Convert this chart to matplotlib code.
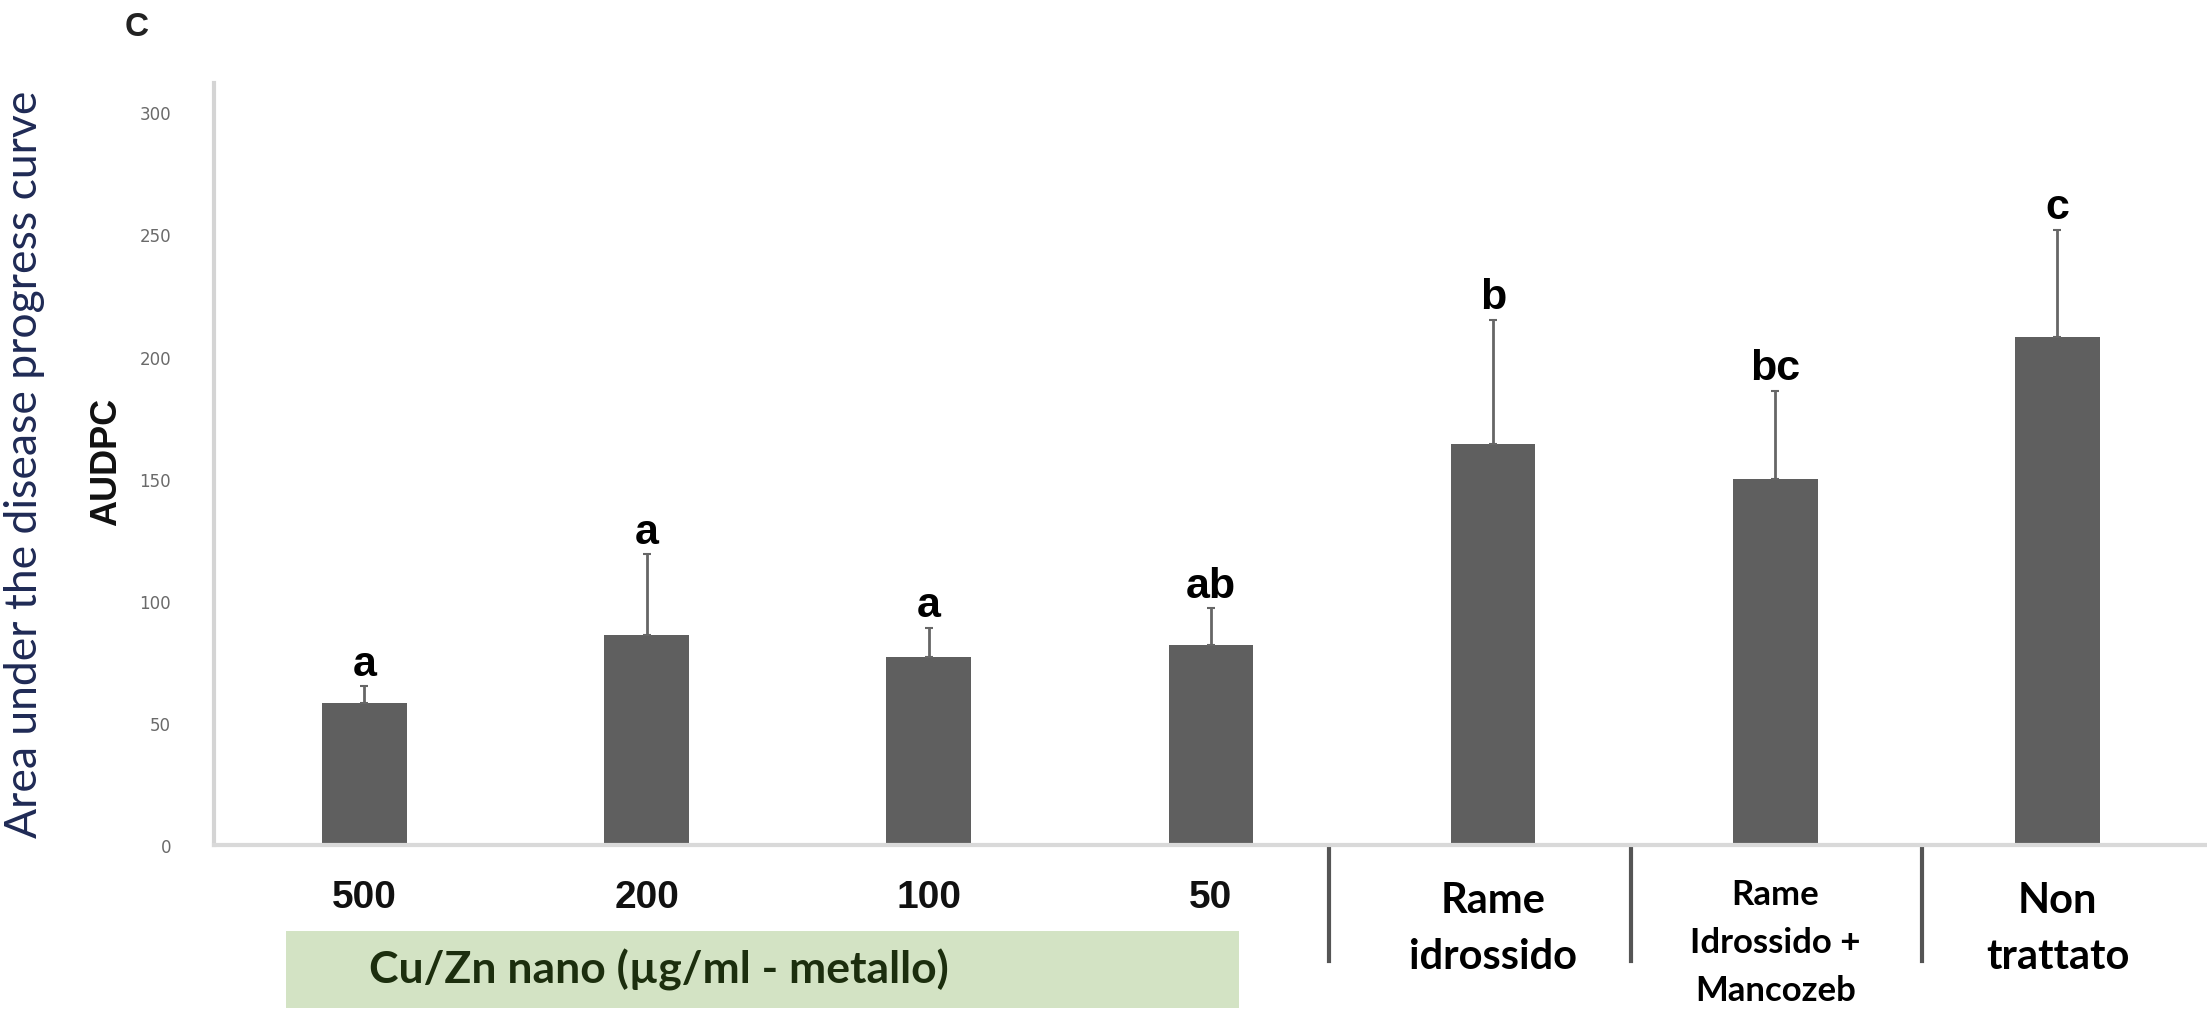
import matplotlib
matplotlib.use("Agg")
import matplotlib.pyplot as plt
import matplotlib.transforms as mtransforms
from matplotlib.patches import Rectangle

# ---- data ----
categories = ["500", "200", "100", "50", "Rame\nidrossido", "Rame\nIdrossido +\nMancozeb", "Non\ntrattato"]
audpc_mean = [58, 86, 77, 82, 164, 150, 208]
audpc_err = [7, 33, 12, 15, 51, 36, 44]
letters = ["a", "a", "a", "ab", "b", "bc", "c"]
y_ticks = [0, 50, 100, 150, 200, 250, 300]
group_label = "Cu/Zn nano (µg/ml - metallo)"
separators = [3.42, 4.49, 5.52]

W, H = 2207, 1012
fig = plt.figure(figsize=(W / 100, H / 100), dpi=100)
fig.patch.set_facecolor("white")

ax = fig.add_axes([214 / W, (H - 846) / H, (W - 214) / W, (846 - 84) / H])
x = list(range(len(categories)))
ax.bar(x, audpc_mean, width=0.30, color="#5f5f5f", zorder=2)
ax.errorbar(x, audpc_mean, yerr=[[0] * len(x), audpc_err], fmt="none",
            ecolor="#666666", elinewidth=2, capsize=3, capthick=1.5, zorder=3)

ax.set_xlim(-0.533, 6.53)
ax.set_ylim(0, 312)
ax.set_yticks(y_ticks)
ax.set_yticklabels([str(t) for t in y_ticks], fontsize=12, color="#6a6a6a",
                   family="DejaVu Sans")
ax.tick_params(axis="y", length=0, pad=31)
ax.tick_params(axis="x", length=0, labelbottom=False)
for s in ["top", "right"]:
    ax.spines[s].set_visible(False)
ax.spines["left"].set_color("#d4d4d4")
ax.spines["left"].set_linewidth(3)
ax.spines["bottom"].set_color("#d9d9d9")
ax.spines["bottom"].set_linewidth(3)

# significance letters
for xi, m, e, l in zip(x, audpc_mean, audpc_err, letters):
    ax.text(xi, m + e + 1, l, ha="center", va="bottom", fontsize=31,
            fontweight="bold", family="Liberation Sans", color="black")

# category labels
trans = mtransforms.blended_transform_factory(ax.transData, fig.transFigure)
for xi, c in zip(x, categories):
    n = c.count("\n")
    if n == 1:
        ax.text(xi, (H - 929) / H, c, transform=trans, ha="center",
                va="center", fontsize=30, fontweight="bold", family="Lato",
                color="black", linespacing=1.55)
    elif n == 2:
        ax.text(xi, (H - 943) / H, c, transform=trans, ha="center",
                va="center", fontsize=25, fontweight="bold", family="Lato",
                color="black", linespacing=1.6)
    else:
        ax.text(xi, (H - 898) / H, c, transform=trans, ha="center",
                va="center", fontsize=28, fontweight="bold",
                family="Liberation Sans", color="#111111")

# separators below axis
for sx in separators:
    ax.plot([sx, sx], [(H - 849) / H, (H - 962) / H], transform=trans,
            color="#555555", lw=3, clip_on=False)

# green group box
fig.patches.append(Rectangle((286 / W, (H - 1009) / H), (1239 - 286) / W, 77 / H,
                             transform=fig.transFigure, facecolor="#d3e3c4",
                             edgecolor="none"))
fig.text(369 / W, (H - 970) / H, group_label, ha="left", va="center",
         fontsize=32, fontweight="bold", family="Lato", color="#1c2e0e")

# axis titles
fig.text(25 / W, (H - 464) / H, "Area under the disease progress curve",
         rotation=90, ha="center", va="center", fontsize=32, family="Lato",
         color="#1f2a55")
fig.text(107 / W, (H - 462) / H, "AUDPC", rotation=90, ha="center",
         va="center", fontsize=26, fontweight="bold", family="Liberation Sans",
         color="#111111")
fig.text(137 / W, (H - 27) / H, "C", ha="center", va="center", fontsize=24,
         fontweight="bold", family="Liberation Sans", color="#222222")

fig.savefig("out.png", dpi=100, facecolor="white")
